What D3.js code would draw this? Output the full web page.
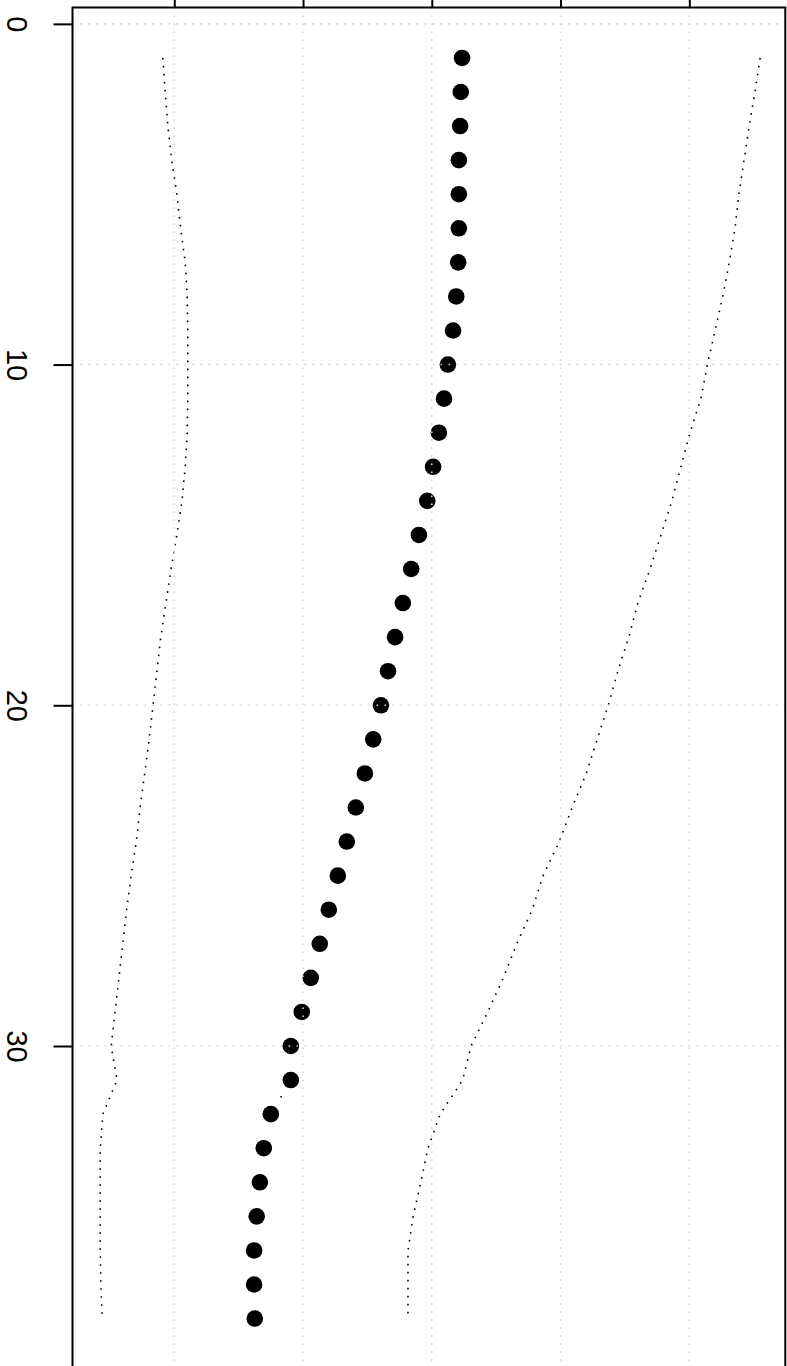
<!DOCTYPE html>
<html>
<head>
  <meta charset="UTF-8">
  <style>
    body { margin: 0; background: #fff; }
    svg { display: block; }
    .tick text { font-family: "Liberation Sans", Arial, sans-serif; }
  </style>
  <script src="https://d3js.org/d3.v7.min.js"></script>
</head>
<body>
  <svg id="chart" width="787" height="1366"></svg>
  <script>
    // index along the vertical axis is 1..38
    var estimate = [0.647, 0.645, 0.644, 0.642, 0.642, 0.642, 0.641, 0.638, 0.633, 0.625,
                    0.619, 0.611, 0.602, 0.593, 0.580, 0.568, 0.555, 0.543, 0.532, 0.521,
                    0.509, 0.496, 0.482, 0.468, 0.454, 0.440, 0.426, 0.412, 0.398, 0.381,
                    0.381, 0.350, 0.339, 0.333, 0.328, 0.324, 0.324, 0.325];
    var lower = [0.182, 0.186, 0.190, 0.196, 0.204, 0.210, 0.217, 0.220, 0.221, 0.221,
                 0.221, 0.220, 0.217, 0.212, 0.204, 0.195, 0.187, 0.179, 0.173, 0.167,
                 0.161, 0.154, 0.147, 0.141, 0.133, 0.126, 0.120, 0.114, 0.108, 0.102,
                 0.111, 0.089, 0.085, 0.085, 0.085, 0.085, 0.086, 0.088];
    var upper = [1.110, 1.102, 1.093, 1.085, 1.077, 1.071, 1.062, 1.052, 1.040, 1.028,
                 1.018, 1.001, 0.987, 0.973, 0.956, 0.939, 0.920, 0.906, 0.889, 0.874,
                 0.857, 0.840, 0.818, 0.798, 0.773, 0.756, 0.732, 0.711, 0.687, 0.661,
                 0.648, 0.613, 0.594, 0.583, 0.571, 0.563, 0.563, 0.563];
    var yTicks = [0, 10, 20, 30];
    var xTicks = [0.2, 0.4, 0.6, 0.8, 1.0];

    var svg = d3.select("#chart");

    var x = d3.scaleLinear().domain([0.0419, 1.1491]).range([72.5, 785.3]);
    var y = d3.scaleLinear().domain([-0.48, 39.48]).range([7.5, 1369]);

    var line = d3.line()
        .x(function(d){ return x(d); })
        .y(function(d, i){ return y(i + 1); });

    var dotted = function(sel){
        sel.attr("fill", "none")
           .attr("stroke", "#000")
           .attr("stroke-width", 1.6)
           .attr("stroke-dasharray", "1.6,6.4");
    };

    // bounds
    [lower, upper].forEach(function(s){
        svg.append("path").datum(s).attr("d", line).call(dotted);
    });

    // estimate joined like type="b": segments stop short of each point
    var gap = 18.5;
    var segs = d3.pairs(estimate.map(function(d, i){ return [x(d), y(i + 1)]; }))
        .map(function(p){
            var dx = p[1][0] - p[0][0], dy = p[1][1] - p[0][1];
            var len = Math.sqrt(dx * dx + dy * dy);
            if (len <= 2 * gap) return null;
            var ux = dx / len, uy = dy / len;
            return [[p[0][0] + ux * gap, p[0][1] + uy * gap],
                    [p[1][0] - ux * gap, p[1][1] - uy * gap]];
        })
        .filter(function(s){ return s; });
    svg.append("g").selectAll("path")
        .data(segs)
        .enter().append("path")
        .attr("d", d3.line())
        .call(dotted);

    svg.append("g").selectAll("circle")
        .data(estimate)
        .enter().append("circle")
        .attr("cx", function(d){ return x(d); })
        .attr("cy", function(d, i){ return y(i + 1); })
        .attr("r", 8.3)
        .attr("fill", "#000");

    // grid drawn last, like the original
    var grid = svg.append("g")
        .attr("stroke", "#d3d3d3")
        .attr("stroke-width", 1.6)
        .attr("stroke-dasharray", "1.6,6.4");
    grid.selectAll(".gx").data(xTicks).enter().append("line")
        .attr("x1", function(d){ return x(d); }).attr("x2", function(d){ return x(d); })
        .attr("y1", y.range()[0]).attr("y2", y.range()[1]);
    grid.selectAll(".gy").data(yTicks).enter().append("line")
        .attr("y1", function(d){ return y(d); }).attr("y2", function(d){ return y(d); })
        .attr("x1", x.range()[0]).attr("x2", x.range()[1]);

    // axes
    var leftAxis = svg.append("g")
        .attr("transform", "translate(72.5,0)")
        .call(d3.axisLeft(y).tickValues(yTicks).tickSize(19).tickSizeOuter(0));
    leftAxis.select(".domain").remove();
    leftAxis.selectAll(".tick line").attr("stroke", "#000").attr("stroke-width", 2);
    leftAxis.selectAll(".tick text")
        .attr("x", null).attr("dy", null)
        .attr("transform", "translate(-66,0) rotate(90)")
        .attr("text-anchor", "middle")
        .attr("fill", "#000")
        .style("font-size", "29px");

    var topAxis = svg.append("g")
        .attr("transform", "translate(0,7.5)")
        .call(d3.axisTop(x).tickValues(xTicks).tickSize(19).tickSizeOuter(0).tickFormat(""));
    topAxis.select(".domain").remove();
    topAxis.selectAll(".tick line").attr("stroke", "#000").attr("stroke-width", 2);

    // plot box
    svg.append("rect")
        .attr("x", x.range()[0]).attr("y", y.range()[0])
        .attr("width", x.range()[1] - x.range()[0])
        .attr("height", y.range()[1] - y.range()[0])
        .attr("fill", "none")
        .attr("stroke", "#000")
        .attr("stroke-width", 2);
  </script>
</body>
</html>
